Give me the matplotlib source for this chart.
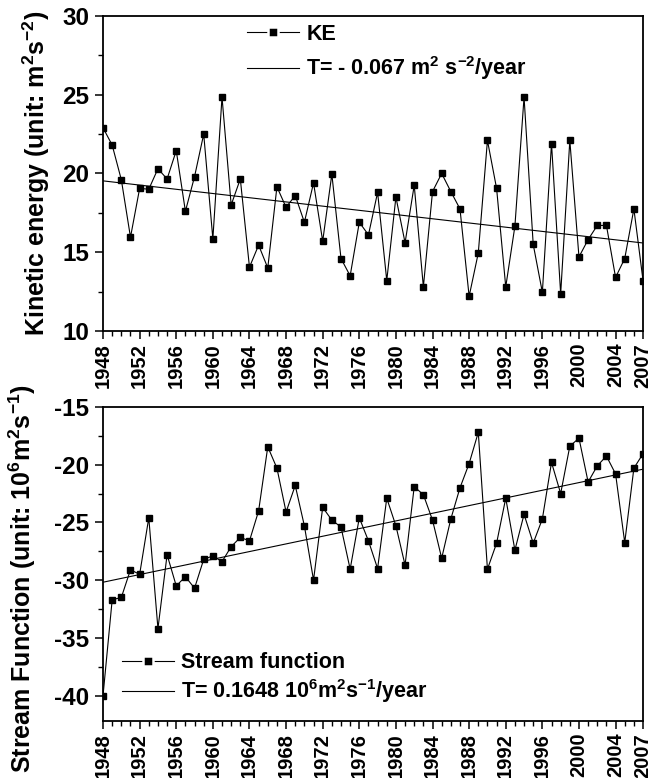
import numpy as np
import matplotlib
matplotlib.use("Agg")
import matplotlib.pyplot as plt
from matplotlib.lines import Line2D

years = np.arange(1948, 2008)
ke = [22.9, 21.8, 19.6, 15.95, 19.05, 19.0, 20.3, 19.65, 21.45, 17.6,
      19.8, 22.5, 15.85, 24.85, 18.0, 19.65, 14.05, 15.45, 14.0, 19.15,
      17.85, 18.6, 16.9, 19.4, 15.7, 19.95, 14.6, 13.5, 16.9, 16.1,
      18.8, 13.2, 18.5, 15.6, 19.25, 12.8, 18.85, 20.0, 18.85, 17.75,
      12.2, 14.95, 22.1, 19.05, 12.8, 16.65, 24.85, 15.5, 12.45, 21.9,
      12.35, 22.1, 14.7, 15.8, 16.7, 16.7, 13.4, 14.6, 17.75, 13.2]
sf = [-40.0, -31.7, -31.5, -29.1, -29.5, -24.6, -34.2, -27.8, -30.5, -29.7,
      -30.7, -28.2, -27.9, -28.4, -27.1, -26.3, -26.6, -24.0, -18.45, -20.3,
      -24.1, -21.8, -25.3, -30.0, -23.7, -24.8, -25.4, -29.05, -24.6, -26.6,
      -29.0, -22.9, -25.3, -28.7, -21.9, -22.6, -24.8, -28.1, -24.7, -22.0,
      -19.9, -17.2, -29.05, -26.8, -22.9, -27.4, -24.3, -26.8, -24.7, -19.8,
      -22.5, -18.4, -17.7, -21.5, -20.1, -19.25, -20.8, -26.75, -20.3, -19.05]
xticks = list(range(1948, 2005, 4)) + [2007]

plt.rcParams['font.family'] = ['Liberation Sans', 'DejaVu Sans']
plt.rcParams['font.weight'] = 'bold'
plt.rcParams['axes.unicode_minus'] = False
plt.rcParams['mathtext.fontset'] = 'custom'
plt.rcParams['mathtext.rm'] = 'Liberation Sans:bold'
plt.rcParams['mathtext.default'] = 'rm'

fig = plt.figure(figsize=(6.6, 7.78), dpi=100)
ax1 = fig.add_axes([0.1561, 0.5746, 0.8182, 0.4049])
ax2 = fig.add_axes([0.1561, 0.0733, 0.8182, 0.4036])


def style(ax, ylim, yticks):
    ax.set_xlim(1948, 2007)
    ax.set_xticks(xticks)
    ax.set_xticks(years, minor=True)
    ax.set_yticks(yticks)
    ax.set_yticks(np.arange(yticks[0] - 2.5, yticks[-1] + 2.6, 5), minor=True)
    ax.set_ylim(*ylim)
    ax.tick_params(axis='x', which='major', direction='out', length=6, width=1.1,
                   labelsize=14.5, labelrotation=90, pad=2.5)
    ax.tick_params(axis='x', which='minor', direction='out', length=3.6, width=1.0)
    ax.tick_params(axis='y', which='major', direction='out', length=6, width=1.1,
                   labelsize=17.5, pad=4)
    ax.tick_params(axis='y', which='minor', direction='out', length=3.6, width=1.0)
    for s in ax.spines.values():
        s.set_linewidth(1.3)


def draw(ax, y, label, tlabel):
    ax.plot(years, y, color='k', lw=0.8, marker='s', ms=4.6, mfc='k', mec='k')
    k, b = np.polyfit(years, y, 1)
    ax.plot(years, k * years + b, color='k', lw=0.8)
    h1 = Line2D([], [], color='k', lw=0.8, marker='s', ms=7, mfc='k',
                mec='white', mew=1.8)
    h2 = Line2D([], [], color='k', lw=0.8)
    return [h1, h2], [label, tlabel]


hs, ls = draw(ax1, ke, 'KE', 'T= - 0.067 m$^2$ s$^{-2}$/year')
style(ax1, (10, 30), [10, 15, 20, 25, 30])
ax1.legend(hs, ls, loc='upper left', bbox_to_anchor=(0.267, 0.975), frameon=False,
           borderpad=0, borderaxespad=0, handlelength=2.4, handletextpad=0.35,
           labelspacing=0.45, prop={'size': 15.5, 'weight': 'bold'})
ax1.set_ylabel('Kinetic energy (unit: m$^2$s$^{-2}$)', fontsize=18, fontweight='bold')
ax1.yaxis.set_label_coords(-0.095, 0.5)

hs, ls = draw(ax2, sf, 'Stream function', 'T= 0.1648 10$^6$m$^2$s$^{-1}$/year')
style(ax2, (-42.2, -15), [-40, -35, -30, -25, -20, -15])
ax2.legend(hs, ls, loc='lower left', bbox_to_anchor=(0.035, 0.05), frameon=False,
           borderpad=0, borderaxespad=0, handlelength=2.4, handletextpad=0.35,
           labelspacing=0.2, prop={'size': 15.5, 'weight': 'bold'})
ax2.set_ylabel('Stream Function (unit: 10$^6$m$^2$s$^{-1}$)', fontsize=18, fontweight='bold')
ax2.yaxis.set_label_coords(-0.12, 0.455)

fig.savefig('out.png', dpi=100)
